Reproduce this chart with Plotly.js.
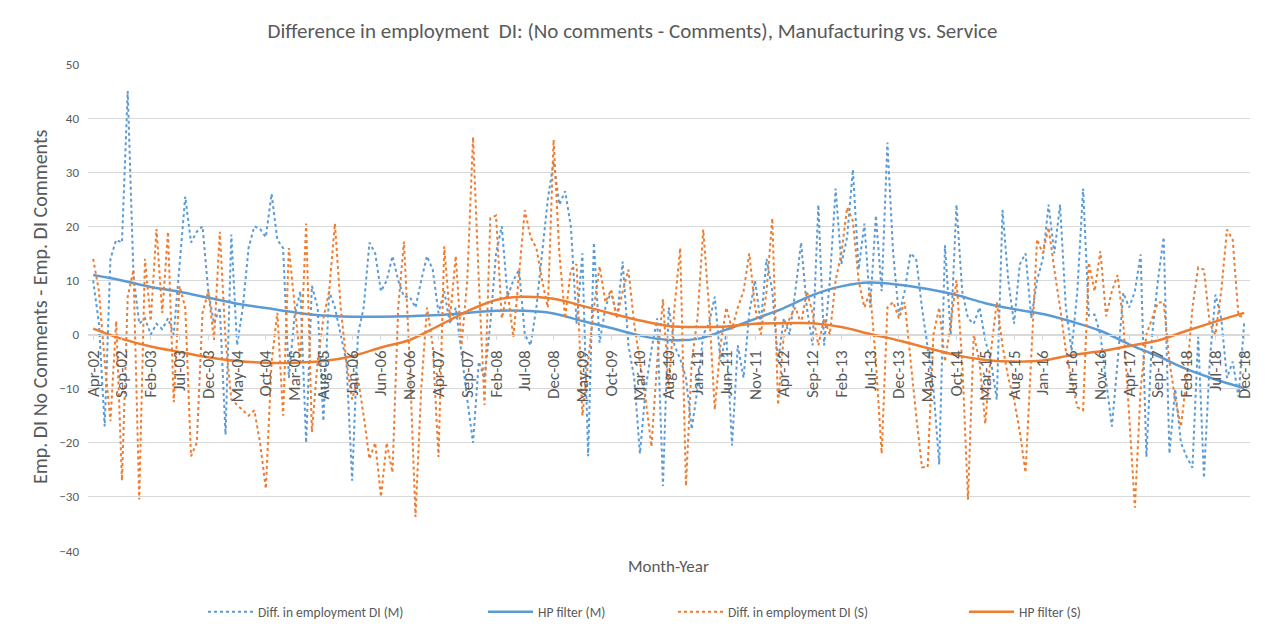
<!DOCTYPE html>
<html>
<head>
<meta charset="utf-8">
<script src="https://cdn.plot.ly/plotly-3.0.1.min.js"></script>
<style>
  html, body { margin: 0; padding: 0; background: #fff; }
  #chart { width: 1265px; height: 637px; outline: 1px solid #d9d9d9; outline-offset: -1px; }
</style>
</head>
<body>
<div id="chart"></div>
<script>
// Tick labels (every 5th month, Apr-02 .. Dec-18)
const tickLabels = ["Apr-02","Sep-02","Feb-03","Jul-03","Dec-03","May-04","Oct-04","Mar-05","Aug-05","Jan-06",
  "Jun-06","Nov-06","Apr-07","Sep-07","Feb-08","Jul-08","Dec-08","May-09","Oct-09","Mar-10",
  "Aug-10","Jan-11","Jun-11","Nov-11","Apr-12","Sep-12","Feb-13","Jul-13","Dec-13","May-14",
  "Oct-14","Mar-15","Aug-15","Jan-16","Jun-16","Nov-16","Apr-17","Sep-17","Feb-18","Jul-18","Dec-18"];

// Monthly difference in employment DI, Manufacturing (Apr-02 .. Dec-18, 201 months)
const diffM = [10,2,-17,14,17.5,17,45,11,2,3,
  0,2,1,3,0,12,25.5,17,19,20,
  8,2,5,-18.5,18.5,-2,5,16,20,19.5,
  18,26,17.5,16,-8,3.5,8,-20,9,5,
  -16,8,5,0,-5,-27,0,5,17,15,
  8,10,14.5,10,7,7,5,10,14.5,12,
  4,8,2,5,-4,-12,-20,-5,-8,2,
  15,20,7,10,12,0,-2,5,15,25,
  32,24,26.5,20,2,15,-22.5,17,-1.5,5,
  8,3,13.5,-2,-8,-22,-10,-2.8,3,-28,
  5,-2,-4.5,-8,-17.5,-10,0,2,7,-5,
  0,-20.5,-2,-8,4,10,2,14,8,-5,
  3,0,8,17,5,-2,24,-2,10,27,
  13,18,30.5,12,20.5,5,22,8,35.5,15,
  3.5,8,15,14,5,-3,-10,-24,16.5,0,
  24,8,3,2,5,-1,-5,-12,23,10,
  2,13,15,3,10,14,24,15,24,5,
  -3,8,27,3.5,3.7,0,-8,-17,-5,7.7,
  5,8,14.8,-22.6,0,10,18,-22,-10,-20,
  -22.6,-24.6,-0.4,-26.5,-5,7.4,3,-8,-5,-11.5,
  2.2];

// Monthly difference in employment DI, Service
const diffS = [14,8,-5,-16,2.5,-27,7,12,-30.5,14,
  2.5,19.5,4,19,-12.5,9,5,-22.5,-20,4,
  8,-1,19,-1,-12,-13,-14,-15,-14,-20,
  -28.5,-5,4,-15,16,5,-5,20.5,-18,-5,
  3,8,20.5,5,-5,-12,-8,-15,-23,-20,
  -30,-20,-25.5,5,17.2,-5,-33.7,-10,5,-2,
  -22.6,16.3,3,14.5,-2,10,36.5,10,-13,21.5,
  22,3,8,-0.5,12,23,18,16,10,5,
  36,15,3,12,13,-15,-5,5,12.6,6,
  8.3,3,8,12,2,-5,-12,-20.7,-5,6.5,
  -10,5,16,-28,-5,3,19.4,5,-13.9,-2,
  5,1,5,8,15,5,0,8,21.5,-13,
  0,3,5,2,8,4,-2,3,0,10,
  15,23.5,21,10,5,8,-5,-22,5,6,
  3,6,-5,-15,-24.5,-24.5,0,5,-5,2,
  10,-5,-30.5,0,-5,-16.5,-3,6,-2,-8,
  -12,-18,-25.5,-5,17.6,15,19.8,12,5,-3,
  -8,-13.4,-14,13.3,8,15.4,3.4,8,11,2,
  -15,-32,-10,0,3,5.9,6,-5,-12,-17,
  -8,5,12.4,12,2,0,8,19.4,17.5,3.4,
  3.4];

// HP filter trends, read at every 5th month (the tick months)
const hpM = [11,10,8.8,7.9,6.8,5.7,4.9,4.1,3.5,3.3,
  3.3,3.4,3.6,4.0,4.4,4.4,3.9,2.5,1.2,-0.2,
  -1,-0.8,0.9,2.9,4.9,7.3,8.9,9.6,9.2,8.4,
  7.3,5.8,4.7,3.8,2.4,0.7,-1.8,-4,-6.4,-8.3,
  -9.9];
const hpS = [1.1,-0.8,-2.2,-3.2,-4.2,-4.9,-5.2,-5.2,-4.9,-4.0,
  -2.4,-1.0,1.6,4.3,6.4,7.0,6.6,5.3,3.9,2.6,
  1.6,1.4,1.5,2.0,2.1,2.1,1.4,0.1,-1.1,-2.5,
  -3.8,-4.7,-5.0,-4.8,-3.8,-3.1,-2.1,-1.1,0.7,2.4,
  4.0];

const monthIdx = diffM.map((_, i) => i);
const tickIdx = tickLabels.map((_, i) => i * 5);

const BLUE = '#5b9bd5', ORANGE = '#ed7d31', TXT = '#595959', GRID = '#d9d9d9';
const FONT = 'Carlito, Calibri, "Liberation Sans", Arial, sans-serif';

const traces = [
  {x: monthIdx, y: diffM, type: 'scatter', mode: 'lines', name: 'Diff. in employment DI (M)', legend: 'legend',
   line: {color: BLUE, width: 2, dash: 'dot'}},
  {x: tickIdx, y: hpM, type: 'scatter', mode: 'lines', name: 'HP filter (M)', legend: 'legend2',
   line: {color: BLUE, width: 2.5, shape: 'spline'}},
  {x: monthIdx, y: diffS, type: 'scatter', mode: 'lines', name: 'Diff. in employment DI (S)', legend: 'legend3',
   line: {color: ORANGE, width: 2, dash: 'dot'}},
  {x: tickIdx, y: hpS, type: 'scatter', mode: 'lines', name: 'HP filter (S)', legend: 'legend4',
   line: {color: ORANGE, width: 2.5, shape: 'spline'}}
];

function leg(px) {
  return {orientation: 'h', xref: 'container', yref: 'container', x: px / 1265, xanchor: 'left',
          y: 1 - 612 / 637, yanchor: 'middle', itemwidth: 45, bgcolor: 'rgba(0,0,0,0)',
          font: {family: FONT, size: 13.5, color: TXT}};
}

// plot area in pixels: x 88..1250, y 64..551
const PL = 88, PR = 1250, PT = 64, PB = 551;
const px2x = p => (p - PL) / (PR - PL);
const px2y = p => (PB - p) / (PB - PT);

const layout = {
  width: 1265, height: 637,
  margin: {l: PL, r: 1265 - PR, t: PT, b: 637 - PB},
  paper_bgcolor: '#fff', plot_bgcolor: '#fff',
  font: {family: FONT, color: TXT, size: 12},
  title: {text: 'Difference in employment  DI: (No comments - Comments), Manufacturing vs. Service',
          font: {family: FONT, size: 21, color: TXT}, x: 0.5, xanchor: 'center', y: 1 - 31 / 637, yanchor: 'middle'},
  showlegend: true,
  legend: leg(203), legend2: leg(483), legend3: leg(673), legend4: leg(964),
  xaxis: {
    range: [-0.9, 201], anchor: 'free', position: 40/90,
    tickmode: 'array', tickvals: tickIdx, ticktext: tickLabels, tickangle: -90,
    tickfont: {family: FONT, size: 17, color: TXT}, ticklabelstandoff: 4,
    showgrid: false, zeroline: false, showline: true, linecolor: GRID, linewidth: 1,
    ticks: 'outside', ticklen: 4, tickcolor: GRID
  },
  yaxis: {
    range: [-40, 50], dtick: 10, tick0: 0,
    showgrid: true, gridcolor: GRID, gridwidth: 1, zeroline: false,
    showline: false, ticks: '', ticklabelstandoff: 8,
    tickfont: {family: FONT, size: 13, color: TXT}
  },
  annotations: [
    {text: 'Month-Year', xref: 'paper', yref: 'paper', x: px2x(668), y: px2y(566), xanchor: 'center', yanchor: 'middle',
     showarrow: false, font: {family: FONT, size: 17, color: TXT}},
    {text: 'Emp. DI No Comments - Emp. DI Comments', xref: 'paper', yref: 'paper',
     x: px2x(40), y: px2y(307), xanchor: 'center', yanchor: 'middle', textangle: -90,
     showarrow: false, font: {family: FONT, size: 20, color: TXT}}
  ]
};

Plotly.newPlot('chart', traces, layout, {displayModeBar: false, responsive: false});
</script>
</body>
</html>
